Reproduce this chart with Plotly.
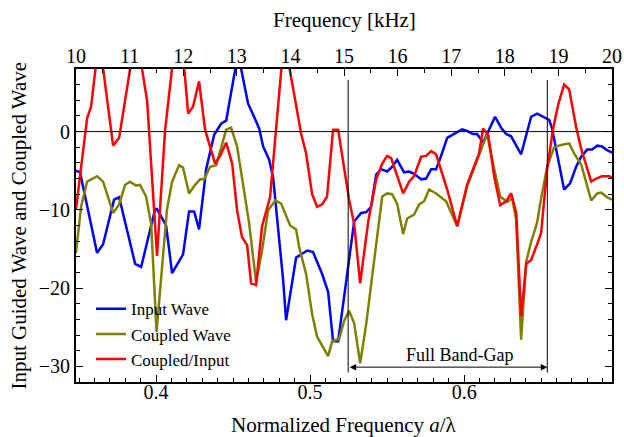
import plotly.graph_objects as go

# ---- data (normalized frequency a/lambda, dB) ----
input_x = [0.348, 0.3506, 0.3617, 0.3656, 0.3727, 0.3760, 0.3864, 0.3903, 0.3994, 0.4006,
           0.4065, 0.4104, 0.4175, 0.4214, 0.4247, 0.4279, 0.4325, 0.4377, 0.4422, 0.4455,
           0.4532, 0.4597, 0.4636, 0.4669, 0.4695, 0.4734, 0.4760, 0.4786, 0.4825, 0.4844,
           0.4909, 0.4981, 0.5019, 0.5078, 0.5117, 0.5149, 0.5182, 0.5286, 0.5331, 0.5364,
           0.5396, 0.5429, 0.5461, 0.5500, 0.5532, 0.5565, 0.5610, 0.5643, 0.5675, 0.5721,
           0.5753, 0.5786, 0.5818, 0.5838, 0.5890, 0.5935, 0.5987, 0.6019, 0.6058, 0.6084,
           0.6123, 0.6201, 0.6240, 0.6273, 0.6305, 0.6370, 0.6435, 0.6474, 0.6506, 0.6552,
           0.6571, 0.6649, 0.6688, 0.6727, 0.6760, 0.6799, 0.6831, 0.6864, 0.6896, 0.6922,
           0.6961]
input_y = [-5.0, -5.2, -15.5, -14.4, -8.7, -8.4, -16.9, -17.3, -9.9, -9.9,
           -12.0, -18.1, -15.7, -10.2, -10.2, -12.5, -4.8, -0.4, 1.0, 1.4,
           10.0, 3.6, 1.9, 0.4, -1.9, -3.6, -5.9, -11.3, -19.0, -24.1,
           -16.1, -15.2, -15.4, -18.2, -20.5, -26.8, -26.8, -11.5, -10.4, -10.3,
           -9.6, -5.5, -4.8, -5.1, -4.5, -3.6, -5.2, -5.1, -5.4, -6.1,
           -6.0, -4.8, -4.8, -3.8, -0.8, -0.3, 0.3, 0.1, -0.3, -0.3,
           -1.4, 1.9, 0.5, -0.3, -0.6, -2.9, 1.9, 2.3, 2.0, 1.5,
           0.4, -7.4, -6.6, -4.5, -3.2, -2.3, -2.3, -1.8, -1.9, -2.3,
           -2.7]

coupled_x = [0.348, 0.3513, 0.3552, 0.3584, 0.3617, 0.3656, 0.3721, 0.3760, 0.3799, 0.3831,
             0.3870, 0.3896, 0.3935, 0.3968, 0.4003, 0.4071, 0.4104, 0.4149, 0.4175, 0.4214,
             0.4253, 0.4286, 0.4312, 0.4351, 0.4390, 0.4455, 0.4487, 0.4526, 0.4565, 0.4604,
             0.4649, 0.4688, 0.4727, 0.4773, 0.4812, 0.4870, 0.4909, 0.4929, 0.4974, 0.5013,
             0.5045, 0.5117, 0.5143, 0.5188, 0.5221, 0.5253, 0.5286, 0.5325, 0.5364, 0.5396,
             0.5435, 0.5468, 0.5500, 0.5532, 0.5565, 0.5604, 0.5630, 0.5675, 0.5708, 0.5740,
             0.5773, 0.5818, 0.5883, 0.5955, 0.6019, 0.6097, 0.6149, 0.6188, 0.6234, 0.6279,
             0.6312, 0.6338, 0.6370, 0.6403, 0.6435, 0.6474, 0.6500, 0.6539, 0.6584, 0.6630,
             0.6682, 0.6714, 0.6760, 0.6825, 0.6864, 0.6890, 0.6929, 0.6961]
coupled_y = [-15.5, -9.6, -6.4, -6.1, -5.7, -6.4, -10.4, -9.3, -6.8, -6.4,
             -6.9, -6.8, -8.3, -11.8, -25.6, -9.9, -6.4, -4.3, -4.6, -7.9,
             -6.8, -6.1, -6.1, -4.5, -4.3, 0.25, 0.5, -1.9, -6.6, -11.7,
             -19.2, -15.2, -10.1, -8.8, -9.2, -12.0, -12.5, -14.8, -18.2, -23.3,
             -26.2, -28.7, -26.8, -26.5, -24.2, -22.9, -24.5, -29.6, -24.6, -19.5,
             -13.5, -8.3, -7.9, -8.0, -9.2, -13.1, -11.1, -10.6, -9.3, -8.9,
             -7.4, -7.9, -8.9, -12.1, -7.0, -3.1, -0.3, -4.1, -8.3, -9.0,
             -8.5, -11.3, -26.6, -16.6, -14.1, -11.6, -8.5, -4.5, -2.0, -1.7,
             -1.5, -2.8, -4.2, -8.8, -7.9, -7.8, -8.4, -8.7]

ratio_x = [0.348, 0.3552, 0.3578, 0.3630, 0.3721, 0.3760, 0.3870, 0.3942, 0.4006, 0.4058,
           0.4149, 0.4208, 0.4240, 0.4279, 0.4318, 0.4351, 0.4383, 0.4416, 0.4455, 0.4494,
           0.4526, 0.4558, 0.4591, 0.4617, 0.4649, 0.4688, 0.4740, 0.4831, 0.4896, 0.4942,
           0.4974, 0.5013, 0.5045, 0.5078, 0.5110, 0.5149, 0.5182, 0.5221, 0.5253, 0.5286,
           0.5325, 0.5377, 0.5429, 0.5468, 0.5500, 0.5526, 0.5565, 0.5604, 0.5643, 0.5675,
           0.5721, 0.5753, 0.5786, 0.5818, 0.5890, 0.5955, 0.6019, 0.6097, 0.6123, 0.6156,
           0.6195, 0.6234, 0.6273, 0.6305, 0.6338, 0.6370, 0.6403, 0.6435, 0.6474, 0.6500,
           0.6539, 0.6578, 0.6610, 0.6649, 0.6682, 0.6727, 0.6760, 0.6825, 0.6857, 0.6896,
           0.6942, 0.6961]
ratio_y = [-9.9, 1.7, 3.2, 12.0, -1.8, -0.8, 12.8, 3.9, -15.9, 0.1,
           16.0, 2.3, 3.2, 6.4, 0.25, -1.9, -4.1, -3.1, -1.4, -4.1,
           -10.1, -13.5, -14.5, -19.4, -19.6, -12.1, -8.4, 12.0, 4.8, -0.3,
           -2.8, -8.0, -9.6, -9.3, -8.3, 0.25, 0.25, -4.5, -8.7, -11.8,
           -19.4, -11.5, -6.1, -4.1, -3.1, -3.4, -5.7, -7.9, -6.4, -5.7,
           -3.2, -3.1, -2.5, -2.9, -7.4, -12.1, -6.8, -2.8, 0.4, -0.4,
           -5.7, -9.4, -8.9, -7.9, -10.4, -23.6, -16.9, -16.4, -14.4, -12.9,
           -4.7, 0.4, 3.4, 6.0, 5.4, 0.6, -2.2, -6.4, -6.0, -5.7,
           -5.7, -5.9]

band_gap = [0.5247, 0.654]
x_range = [0.348, 0.696]
khz_range = [10, 20]
y_range = [-32, 8]

FONT = "Liberation Serif"

fig = go.Figure()
fig.add_trace(go.Scatter(x=input_x, y=input_y, mode="lines", name="Input Wave",
                         line=dict(color="#0000FF", width=2.5)))
fig.add_trace(go.Scatter(x=coupled_x, y=coupled_y, mode="lines", name="Coupled Wave",
                         line=dict(color="#808000", width=2.5)))
fig.add_trace(go.Scatter(x=ratio_x, y=ratio_y, mode="lines", name="Coupled/Input",
                         line=dict(color="#FF0000", width=2.5)))
# invisible trace to activate the top kHz axis
fig.add_trace(go.Scatter(x=khz_range, y=[None, None], xaxis="x2", yaxis="y",
                         mode="lines", showlegend=False, hoverinfo="skip"))

# zero line
fig.add_shape(type="line", xref="paper", yref="y", x0=0, x1=1, y0=0, y1=0,
              line=dict(color="black", width=1))
# band gap verticals
for bx in band_gap:
    fig.add_shape(type="line", xref="x", yref="y", x0=bx, x1=bx, y0=6.6, y1=-30.8,
                  line=dict(color="black", width=1))
# double arrow
fig.add_annotation(x=band_gap[1], y=-30.1, ax=band_gap[0], ay=-30.1,
                   xref="x", yref="y", axref="x", ayref="y", text="",
                   showarrow=True, arrowhead=2, startarrowhead=2, arrowside="end+start",
                   arrowwidth=1, arrowsize=1.3, arrowcolor="black")
fig.add_annotation(x=(band_gap[0] + band_gap[1]) / 2 + 0.008, y=-28.6, xref="x", yref="y",
                   text="Full Band-Gap", showarrow=False,
                   font=dict(family=FONT, size=18, color="black"))

# axis titles as annotations
fig.add_annotation(x=0.5, y=-0.137, xref="paper", yref="paper", yanchor="middle",
                   text="Normalized Frequency <i>a</i>/λ", showarrow=False,
                   font=dict(family=FONT, size=21, color="black"))
fig.add_annotation(x=0.5, y=1.157, xref="paper", yref="paper", yanchor="middle",
                   text="Frequency [kHz]", showarrow=False,
                   font=dict(family=FONT, size=21, color="black"))
fig.add_annotation(x=-0.108, y=0.5, xref="paper", yref="paper", xanchor="center",
                   yanchor="middle",
                   text="Input Guided Wave and Coupled Wave", showarrow=False, textangle=-90,
                   font=dict(family=FONT, size=21, color="black"))

axis_common = dict(showgrid=False, zeroline=False, showline=True, linecolor="black",
                   linewidth=2, ticks="inside", tickcolor="black", tickwidth=1,
                   automargin=False,
                   tickfont=dict(family=FONT, size=20, color="black"))

fig.update_layout(
    width=624, height=437,
    margin=dict(l=76, r=12, t=69, b=55, autoexpand=False),
    paper_bgcolor="white", plot_bgcolor="white",
    font=dict(family=FONT, size=18, color="black"),
    xaxis=dict(range=x_range, tickvals=[0.4, 0.5, 0.6], ticktext=["0.4", "0.5", "0.6"],
               ticklen=7, ticklabelstandoff=-9,
               minor=dict(dtick=0.01, tick0=0.4, ticklen=4, ticks="inside",
                          tickcolor="black"),
               **axis_common),
    xaxis2=dict(range=khz_range, overlaying="x", side="top", dtick=1, tick0=10,
                ticklen=7, ticklabelstandoff=-4,
                minor=dict(dtick=0.5, ticklen=4, ticks="inside", tickcolor="black"),
                **axis_common),
    yaxis=dict(range=y_range, tickvals=[-30, -20, -10, 0], ticklen=7, mirror="ticks",
               minor=dict(dtick=2, tick0=0, ticklen=4, ticks="inside", tickcolor="black"),
               **axis_common),
    legend=dict(x=0.028, y=0.29, xanchor="left", yanchor="top", bgcolor="rgba(0,0,0,0)",
                font=dict(family=FONT, size=17, color="black"), tracegroupgap=0),
    showlegend=True,
)

fig.write_html("out.html")
